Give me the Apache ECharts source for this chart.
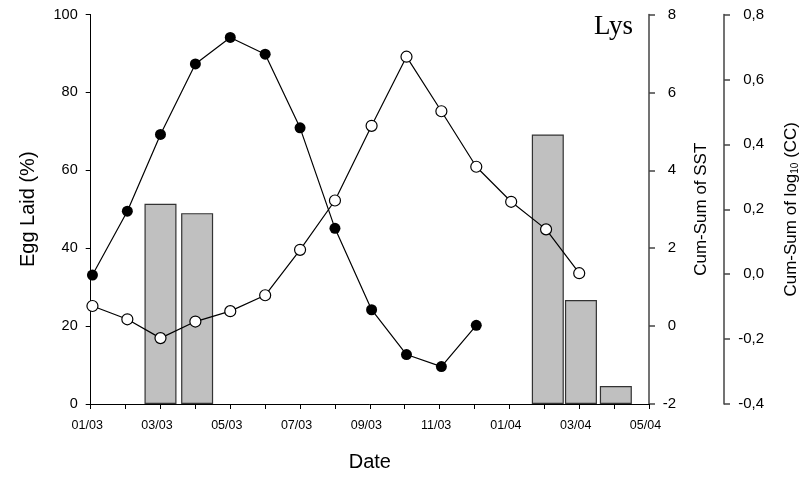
<!DOCTYPE html>
<html>
<head>
<meta charset="utf-8">
<script src="https://cdn.jsdelivr.net/npm/echarts@6/dist/echarts.min.js"></script>
<style>
html,body{margin:0;padding:0;background:#fff;}
#chart{width:811px;height:477px;}
</style>
</head>
<body>
<div id="chart"></div>
<script>
// x positions are months since 01/2003
const xTickLabels = ['01/03','','03/03','','05/03','','07/03','','09/03','','11/03','','01/04','','03/04','','05/04'];
const sstMonths = [0.05, 1.05, 2, 3, 4, 5, 6, 7, 8.05, 9.05, 10.05, 11.05];
const sstCumSum = [1.31, 2.95, 4.92, 6.73, 7.41, 6.98, 5.09, 2.51, 0.42, -0.73, -1.04, 0.02];
const ccMonths = [0.05, 1.05, 2, 3, 4, 5, 6, 7, 8.05, 9.05, 10.05, 11.05, 12.05, 13.05, 14];
const ccCumSum = [-0.098, -0.139, -0.197, -0.146, -0.114, -0.065, 0.075, 0.227, 0.457, 0.670, 0.502, 0.331, 0.223, 0.138, 0.003];
const barMonths = [2.0, 3.05, 13.1, 14.05, 15.05];
const eggLaid = [51.4, 49.0, 69.2, 26.7, 4.6];

const pair = (xs, ys) => xs.map((x, i) => [x, ys[i]]);
const font = "'Liberation Sans', Arial, sans-serif";
const chart = echarts.init(document.getElementById('chart'));
const axisCommon = {
  splitLine: {show: false},
  axisTick: {show: true, inside: false, length: 5, lineStyle: {color: '#000', width: 1}},
  axisLine: {show: true, onZero: false, lineStyle: {color: '#000', width: 1}},
  nameLocation: 'middle'
};
chart.setOption({
  animation: false,
  backgroundColor: '#fff',
  grid: {left: 90.7, right: 162, top: 14.5, bottom: 72.3},
  title: {text: 'Lys', right: 173, top: 8, textStyle: {fontFamily: "'Liberation Serif', 'Times New Roman', serif", fontWeight: 'normal', fontSize: 27, color: '#000'}},
  xAxis: Object.assign({}, axisCommon, {
    type: 'value', min: 0, max: 16, interval: 1,
    name: 'Date', nameGap: 48,
    nameTextStyle: {fontFamily: font, fontSize: 20, color: '#000'},
    axisLabel: {margin: 15, padding: [0, 7, 0, 0], fontFamily: font, fontSize: 12.5, color: '#000', formatter: v => xTickLabels[v] || ''}
  }),
  yAxis: [
    Object.assign({}, axisCommon, {
      type: 'value', min: 0, max: 100, interval: 20, position: 'left',
      name: 'Egg Laid (%)', nameGap: 52,
      nameTextStyle: {fontFamily: font, fontSize: 20, color: '#000'},
      axisLabel: {margin: 13, fontFamily: font, fontSize: 14.5, color: '#000'}
    }),
    Object.assign({}, axisCommon, {
      type: 'value', min: -2, max: 8, interval: 2, position: 'right',
      name: 'Cum-Sum of SST', nameGap: 44,
      nameTextStyle: {fontFamily: font, fontSize: 17, color: '#000'},
      axisLine: {show: true, onZero: false, lineStyle: {color: '#444', width: 1.5}},
      axisTick: {show: true, inside: false, length: 6, lineStyle: {color: '#444', width: 1.5}},
      axisLabel: {margin: 27, align: 'right', fontFamily: font, fontSize: 15, color: '#000'}
    }),
    Object.assign({}, axisCommon, {
      type: 'value', min: -0.4, max: 0.8, interval: 0.2, position: 'right', offset: 75,
      name: 'Cum-Sum of log{sub|10} (CC)', nameGap: 58,
      nameTextStyle: {fontFamily: font, fontSize: 17, color: '#000',
        rich: {sub: {fontFamily: font, fontSize: 10, color: '#000', verticalAlign: 'bottom', padding: [8, 0, 0, 0]}}},
      axisLine: {show: true, onZero: false, lineStyle: {color: '#444', width: 1.5}},
      axisTick: {show: true, inside: false, length: 6, lineStyle: {color: '#444', width: 1.5}},
      axisLabel: {margin: 40, align: 'right', fontFamily: font, fontSize: 15, color: '#000',
        formatter: v => v.toFixed(1).replace('.', ',')}
    })
  ],
  series: [
    {type: 'bar', xAxisIndex: 0, yAxisIndex: 0, barWidth: 32, data: pair(barMonths, eggLaid),
     itemStyle: {color: '#c0c0c0', borderColor: '#333', borderWidth: 1.2}},
    {type: 'line', yAxisIndex: 2, data: pair(ccMonths, ccCumSum), symbol: 'circle', symbolSize: 11,
     lineStyle: {color: '#000', width: 1.2}, itemStyle: {color: '#fff', borderColor: '#000', borderWidth: 1.2}, z: 3},
    {type: 'line', yAxisIndex: 1, data: pair(sstMonths, sstCumSum), symbol: 'circle', symbolSize: 11,
     lineStyle: {color: '#000', width: 1.2}, itemStyle: {color: '#000', borderColor: '#000', borderWidth: 0}, z: 4}
  ]
});
</script>
</body>
</html>
